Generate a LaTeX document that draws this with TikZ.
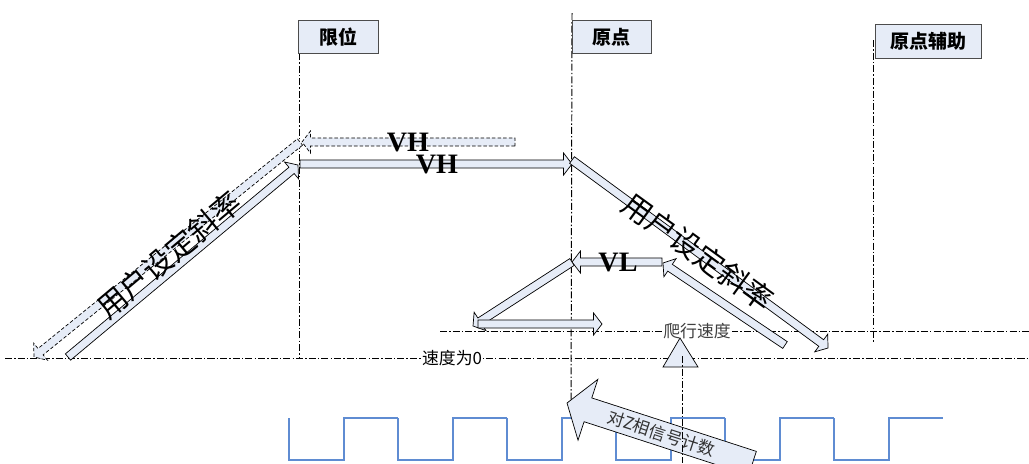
\documentclass[tikz,border=0pt]{standalone}
\usepackage{fontspec}
\setmainfont{Liberation Serif}
\newfontfamily\cjk{Noto Sans CJK SC}
\usetikzlibrary{calc}

\definecolor{paleblue}{RGB}{230,236,247}
\definecolor{wave}{RGB}{95,140,210}

\newcommand{\arrowsw}{2.9pt}
\newcommand{\arrowhw}{7.8pt}
\newcommand{\arrowhl}{6pt}
\newcommand{\hollowarrow}[3][]{%
  \coordinate (ha) at ($(#3)!\arrowhl!(#2)$);
  \draw[arrowbody,#1] ($(#2)!\arrowsw!90:(#3)$) -- ($(ha)!\arrowsw!90:(#3)$)
    -- ($(ha)!\arrowhw!90:(#3)$) -- (#3) -- ($(ha)!\arrowhw!-90:(#3)$)
    -- ($(ha)!\arrowsw!-90:(#3)$) -- ($(#2)!\arrowsw!-90:(#3)$) -- cycle;}

\tikzset{
  arrowbody/.style={draw=black, fill=paleblue, line width=0.5pt, line join=miter},
  backtrack/.style={dash pattern=on 2.5pt off 1.5pt},
  dashdot/.style={line width=0.7pt, dash pattern=on 5pt off 1.5pt on 1pt off 1.5pt},
  markbox/.style={draw=black!70, fill=paleblue, line width=0.6pt, inner sep=0pt,
    font=\cjk\bfseries\fontsize{13.5}{14}\selectfont, minimum height=0.83cm},
  slopetext/.style={font=\cjk\fontsize{21}{21}\selectfont, inner sep=0pt},
  speedtext/.style={font=\cjk\fontsize{12}{12}\selectfont, fill=white, inner sep=1pt},
  vtext/.style={font=\bfseries\fontsize{20}{20}\selectfont, inner sep=0pt},
}

\begin{document}
\begin{tikzpicture}[x=0.025cm, y=-0.025cm]
    \useasboundingbox (0,0) rectangle (1029,463);

    % Z phase pulses
    \foreach \k in {0,...,5} {
        \draw[wave, line width=0.8pt] (289+109*\k,418) -- (289+109*\k,460) -- (344+109*\k,460)
            -- (344+109*\k,418) -- (398+109*\k,418);
    }

    \coordinate (lim-top) at (299,53);
    \coordinate (lim-bot) at (299,357);
    \coordinate (org-top) at (572,13);
    \coordinate (org-bot) at (571,417);
    \coordinate (aux-top) at (873,40);
    \coordinate (aux-bot) at (873,342);
    \coordinate (zero-l) at (5,358);
    \coordinate (zero-r) at (1029,358);
    \coordinate (creep-l) at (440,331);
    \coordinate (creep-r) at (1029,331);

    \draw[dashdot] (lim-top) -- (lim-bot);
    \draw[dashdot] (org-top) -- (org-bot);
    \draw[dashdot] (aux-top) -- (aux-bot);
    \draw[dashdot] (zero-l) -- (zero-r);
    \draw[dashdot] (creep-l) -- (creep-r);
    \node[speedtext] (zero-lbl) at (452,358) {速度为0};
    \node[speedtext, text=black!75] (creep-lbl) at (697,331) {爬行速度};

    \node[markbox, minimum width=2cm, anchor=north west] (lim) at (298,20) {限位};
    \node[markbox, minimum width=1.975cm, anchor=north west] (org) at (572,20) {原点};
    \node[markbox, minimum width=2.65cm, minimum height=0.85cm, anchor=north west] (aux) at (875,24) {原点辅助};

    % speed profile
    \coordinate (up-a) at (68,357);
    \coordinate (up-b) at (298,165);
    \coordinate (back-a) at (300,142);
    \coordinate (back-b) at (34,357);
    \coordinate (vhb-a) at (515,142);
    \coordinate (vhb-b) at (302,142);
    \coordinate (vh-a) at (300,164);
    \coordinate (vh-b) at (572,164);
    \coordinate (dn-a) at (572,160);
    \coordinate (dn-b) at (828,348);
    \coordinate (vl-a) at (662,262);
    \coordinate (vl-b) at (572,262);
    \coordinate (rise-a) at (785,345);
    \coordinate (rise-b) at (663,263);
    \coordinate (ret-a) at (572,262);
    \coordinate (ret-b) at (473,326);
    \coordinate (crawl-a) at (478,324);
    \coordinate (crawl-b) at (602,324);

    \hollowarrow[backtrack]{back-a}{back-b}
    \hollowarrow[backtrack]{vhb-a}{vhb-b}
    \hollowarrow{up-a}{up-b}
    \hollowarrow{vh-a}{vh-b}
    \hollowarrow{dn-a}{dn-b}
    \hollowarrow{rise-a}{rise-b}
    \hollowarrow{vl-a}{vl-b}
    \hollowarrow{ret-a}{ret-b}
    \hollowarrow{crawl-a}{crawl-b}

    \node[slopetext, rotate=40] (slope-up) at (169,255) {用户设定斜率};
    \node[slopetext, rotate=-36] (slope-dn) at (698,252) {用户设定斜率};
    \node[vtext] (vh-back) at (408,142) {VH};
    \node[vtext] (vh-fwd) at (437,164) {VH};
    \node[vtext] (vl) at (618,262) {VL};

    % counting the Z phase
    \begin{scope}[shift={(567,403)}, rotate=-18]
        \draw[arrowbody] (0,0) -- (22,-32) -- (22,-12.5) -- (195,-12.5) -- (195,12.5)
            -- (22,12.5) -- (22,32) -- cycle;
        \node[font=\cjk\fontsize{12}{12}\selectfont, text=black!80, rotate=-18] (zcount) at (99,0) {对Z相信号计数};
    \end{scope}

    \coordinate (tri-top) at (680,338);
    \coordinate (tri-r) at (698,367);
    \coordinate (tri-l) at (663,367);
    \draw[arrowbody] (tri-top) -- (tri-r) -- (tri-l) -- cycle;
    \coordinate (mark-top) at (682,356);
    \coordinate (mark-bot) at (682,463);
    \draw[dashdot] (mark-top) -- (mark-bot);
\end{tikzpicture}
\end{document}
